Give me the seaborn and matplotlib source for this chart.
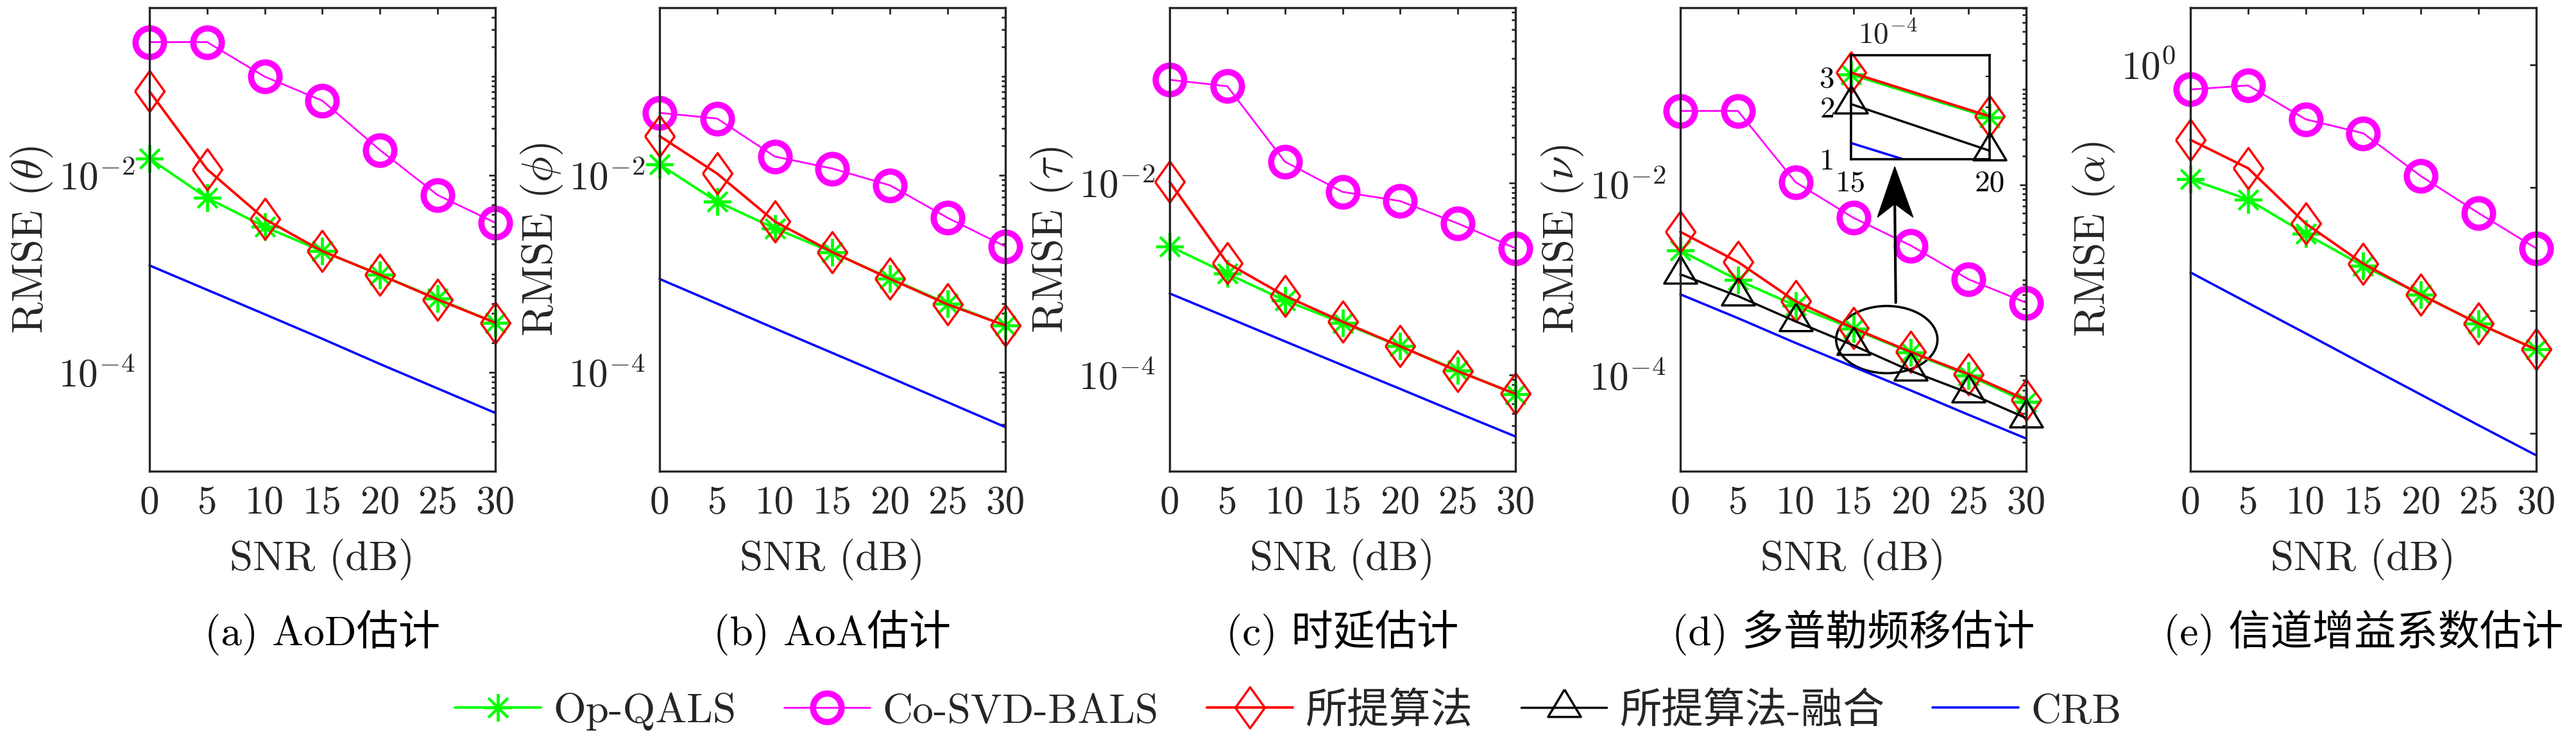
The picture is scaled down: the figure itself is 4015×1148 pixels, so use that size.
import numpy as np
import matplotlib
matplotlib.use("Agg")
import matplotlib.pyplot as plt
import seaborn as sns
from matplotlib.ticker import LogLocator, NullFormatter, FixedLocator, FixedFormatter, NullLocator
from matplotlib.patches import Ellipse, Polygon

# ---------------- data ----------------
snr = [0, 5, 10, 15, 20, 25, 30]
snr_ticks = ["0", "5", "10", "15", "20", "25", "30"]

series_names = ["Op-QALS", "Co-SVD-BALS", "所提算法", "所提算法-融合", "CRB"]

# (a) AoD
a_opqals = [0.0148, 0.0059, 0.0030, 0.0017, 0.00098, 0.00056, 0.00032]
a_cosvd = [0.224, 0.224, 0.100, 0.057, 0.018, 0.0063, 0.0033]
a_prop = [0.071, 0.0115, 0.0036, 0.0017, 0.00098, 0.00055, 0.00032]
a_crb = [1.22e-3, 6.9e-4, 3.9e-4, 2.2e-4, 1.22e-4, 6.9e-5, 3.9e-5]

# (b) AoA
b_opqals = [0.0129, 0.0054, 0.0029, 0.00166, 0.0009, 0.0005, 0.0003]
b_cosvd = [0.043, 0.0376, 0.0155, 0.0117, 0.0079, 0.0037, 0.0019]
b_prop = [0.025, 0.0104, 0.0034, 0.00166, 0.00089, 0.00049, 0.0003]
b_crb = [8.9e-4, 5.0e-4, 2.8e-4, 1.58e-4, 8.9e-5, 5.0e-5, 2.8e-5]

# (c) delay
c_opqals = [0.0022, 0.00114, 0.0006, 0.00035, 0.0002, 0.000112, 6.3e-5]
c_cosvd = [0.119, 0.102, 0.0167, 0.0081, 0.0065, 0.0038, 0.0021]
c_prop = [0.0103, 0.00147, 0.00067, 0.00036, 0.0002, 0.00011, 6.4e-5]
c_crb = [7.1e-4, 4.0e-4, 2.25e-4, 1.27e-4, 7.2e-5, 4.05e-5, 2.3e-5]

# (d) Doppler
d_opqals = [0.00204, 0.001, 0.00054, 0.000308, 0.000174, 0.000101, 5.3e-5]
d_cosvd = [0.059, 0.059, 0.0106, 0.0045, 0.0023, 0.00102, 0.00058]
d_prop = [0.0032, 0.00155, 0.0006, 0.000316, 0.000177, 0.000104, 5.6e-5]
d_fusion = [0.00115, 0.00068, 0.00037, 0.000208, 0.000112, 6.6e-5, 3.6e-5]
d_crb = [7.1e-4, 4.0e-4, 2.2e-4, 1.24e-4, 7.0e-5, 3.9e-5, 2.2e-5]

# (e) gain
e_opqals = [0.117, 0.080, 0.042, 0.023, 0.0135, 0.0078, 0.0048]
e_cosvd = [0.63, 0.68, 0.36, 0.277, 0.124, 0.062, 0.032]
e_prop = [0.245, 0.144, 0.051, 0.024, 0.0134, 0.0078, 0.0048]
e_crb = [0.0204, 0.0115, 0.0065, 0.00365, 0.00206, 0.00116, 6.6e-4]

ylabels = ["RMSE ($\\theta$)", "RMSE ($\\phi$)", "RMSE ($\\tau$)", "RMSE ($\\nu$)", "RMSE ($\\alpha$)"]
captions = ["(a) AoD估计", "(b) AoA估计", "(c) 时延估计", "(d) 多普勒频移估计", "(e) 信道增益系数估计"]
ylims = [(1e-5, 0.5), (1e-5, 0.5), (1e-5, 0.67), (1e-5, 0.71), (4.9e-4, 2.92)]

# inset (zoom of panel d between 15 and 20 dB)
inset_snr = [15, 20]
inset_yticks = [1e-4, 2e-4, 3e-4]
inset_yticklabels = ["1", "2", "3"]

# ---------------- style ----------------
sns.set_style("white")
plt.rcParams["font.family"] = ["cmr10", "Noto Sans CJK SC"]
plt.rcParams["mathtext.fontset"] = "cm"
plt.rcParams["axes.formatter.use_mathtext"] = True
plt.rcParams["axes.unicode_minus"] = False

FS = 47
TICK_FS = 44
AX_COLOR = "#262626"

C_GREEN = "#00FF00"
C_MAG = "#FF00FF"
C_RED = "#FF0000"
C_BLACK = "#000000"
C_BLUE = "#0000FF"

diamond = [(-0.36, 0.0), (0.0, 0.5), (0.36, 0.0), (0.0, -0.5), (-0.36, 0.0)]
triangle = [(0.0, 0.5), (-0.45, -0.25), (0.45, -0.25), (0.0, 0.5)]
asterisk = (8, 2, 0)

styles = {
    "Op-QALS": dict(color=C_GREEN, lw=2.8, marker=asterisk, ms=31, mew=2.8, mec=C_GREEN, mfc="none"),
    "Co-SVD-BALS": dict(color=C_MAG, lw=2.0, marker="o", ms=32, mew=7, mec=C_MAG, mfc="none"),
    "所提算法": dict(color=C_RED, lw=2.8, marker=diamond, ms=46, mew=2.5, mec=C_RED, mfc="none"),
    "所提算法-融合": dict(color=C_BLACK, lw=2.5, marker=triangle, ms=41, mew=2.5, mec=C_BLACK, mfc="none"),
    "CRB": dict(color=C_BLUE, lw=2.6),
}

W, H = 4016, 1148
fig = plt.figure(figsize=(W / 100, H / 100), dpi=100)

lefts = [233, 1028, 1823, 2619, 3414]
ax_w, ax_top, ax_bot = 539, 12, 734

panels = [
    [a_opqals, a_cosvd, a_prop, None, a_crb],
    [b_opqals, b_cosvd, b_prop, None, b_crb],
    [c_opqals, c_cosvd, c_prop, None, c_crb],
    [d_opqals, d_cosvd, d_prop, d_fusion, d_crb],
    [e_opqals, e_cosvd, e_prop, None, e_crb],
]


def style_axes(ax):
    for sp in ax.spines.values():
        sp.set_color(AX_COLOR)
        sp.set_linewidth(2.4)


axes = []
for i, vals in enumerate(panels):
    ax = fig.add_axes([lefts[i] / W, (H - ax_bot) / H, ax_w / W, (ax_bot - ax_top) / H])
    axes.append(ax)
    for name, v in zip(series_names, vals):
        if v is None:
            continue
        sns.lineplot(x=snr, y=v, ax=ax, label=name, legend=False, clip_on=False, **styles[name])
    ax.set_yscale("log")
    ax.set_xlim(0, 30)
    ax.set_ylim(*ylims[i])
    ax.set_xticks(snr)
    ax.set_xticklabels(snr_ticks)
    if i < 4:
        ax.yaxis.set_major_locator(FixedLocator([1e-4, 1e-2]))
        ax.yaxis.set_major_formatter(FixedFormatter(["$10^{-4}$", "$10^{-2}$"]))
        ax.yaxis.set_minor_locator(LogLocator(base=10, subs=np.arange(1, 10), numticks=30))
        ax.yaxis.set_minor_formatter(NullFormatter())
    else:
        ax.yaxis.set_major_locator(FixedLocator([1e-3, 1e-2, 1e-1, 1e0]))
        ax.yaxis.set_major_formatter(FixedFormatter(["", "", "", "$10^{0}$"]))
        ax.yaxis.set_minor_locator(NullLocator())
    ax.tick_params(which="both", direction="in", top=True, right=True, colors=AX_COLOR,
                   labelsize=TICK_FS, width=2.0)
    ax.tick_params(which="major", length=7)
    ax.tick_params(which="minor", length=4.5)
    ax.tick_params(axis="x", pad=16)
    ax.tick_params(axis="y", pad=16)
    ax.set_xlabel("SNR (dB)", fontsize=FS, color=AX_COLOR, labelpad=20)
    ax.set_ylabel(ylabels[i], fontsize=48, color=AX_COLOR, labelpad=5)
    ax.text(0.5, -0.348, captions[i], transform=ax.transAxes, ha="center", va="center",
            fontsize=FS, color="black")
    style_axes(ax)

# ---------------- annotation in panel (d) ----------------
axd = axes[3]
axd.add_patch(Ellipse((0.597, 0.284), 0.293, 0.145, transform=axd.transAxes, fill=False,
                      ec="black", lw=2.6, clip_on=False))
axd.annotate("", xy=(0.620, 0.585), xytext=(0.623, 0.360), xycoords="axes fraction",
             textcoords="axes fraction", arrowprops=dict(arrowstyle="-", lw=3.0, color="black"))
axd.add_patch(Polygon([(0.620, 0.657), (0.673, 0.548), (0.620, 0.577), (0.570, 0.548)],
                      closed=True, transform=axd.transAxes, fc="black", ec="black", lw=1,
                      clip_on=False))

# inset
axin = fig.add_axes([2885 / W, (H - 248) / H, 216 / W, 162 / H])
inset_sets = [("Op-QALS", d_opqals), ("所提算法", d_prop), ("所提算法-融合", d_fusion)]
for name, v in inset_sets:
    sns.lineplot(x=inset_snr, y=v[3:5], ax=axin, legend=False, clip_on=False, **styles[name])
sns.lineplot(x=snr, y=d_crb, ax=axin, legend=False, clip_on=True, **styles["CRB"])
axin.set_yscale("log")
axin.set_xlim(15, 20)
axin.set_ylim(1e-4, 3.98e-4)
axin.set_xticks(inset_snr)
axin.set_xticklabels(["15", "20"])
axin.yaxis.set_major_locator(FixedLocator(inset_yticks))
axin.yaxis.set_major_formatter(FixedFormatter(inset_yticklabels))
axin.yaxis.set_minor_locator(NullLocator())
axin.tick_params(which="both", direction="in", top=True, right=True, labelsize=34,
                 colors="black", length=4, width=1.5)
axin.tick_params(axis="x", pad=12)
axin.tick_params(axis="y", pad=18)
axin.set_xlabel("")
axin.set_ylabel("")
for sp in axin.spines.values():
    sp.set_color("black")
    sp.set_linewidth(2.6)
axin.text(0.05, 1.06, "$10^{-4}$", transform=axin.transAxes, fontsize=34, ha="left", va="bottom")

# ---------------- legend ----------------
handles, labels = axd.get_legend_handles_labels()
fig.legend(handles, labels, loc="center", bbox_to_anchor=(0.5, (H - 1108) / H), ncol=5,
           frameon=False, fontsize=FS, handlelength=2.05, handletextpad=0.3,
           columnspacing=1.15, borderaxespad=0, borderpad=0)

fig.savefig("out.png", dpi=100)
